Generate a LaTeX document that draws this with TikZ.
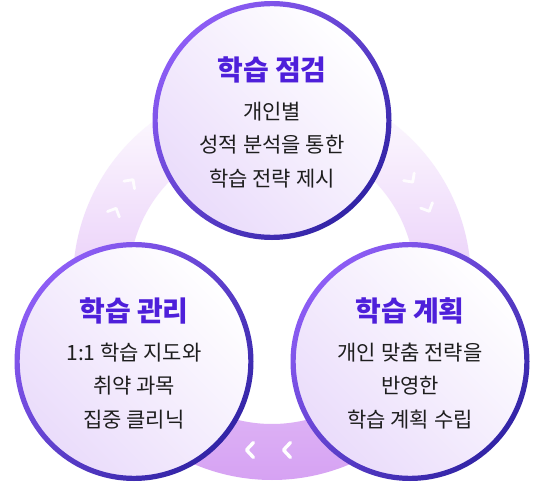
\documentclass[tikz,border=0pt]{standalone}
\usepackage{fontspec}
\newfontfamily\kr{Noto Sans CJK KR}
\usetikzlibrary{calc}
\definecolor{titlec}{HTML}{4E1FDA}
\definecolor{strokeA}{HTML}{8D5DF5}
\definecolor{strokeB}{HTML}{3224A6}
\definecolor{ringB}{HTML}{D6A2F3}
\definecolor{fillB}{HTML}{EADCFB}
\definecolor{txt}{HTML}{1E1E1E}
\tikzset{
  chevron/.pic={\draw[white, line width=2.8pt, line cap=round, line join=round] (-5,6.5) -- (1.5,0) -- (-5,-6.5);},
  bigchevron/.pic={\draw[white, line width=3.4pt, line cap=round, line join=round] (-5.5,7.5) -- (1.5,0) -- (-5.5,-7.5);},
  titletext/.style={font=\kr\bfseries\fontsize{28}{32}\selectfont, text=titlec, inner sep=0pt},
  bodytext/.style={font=\kr\fontsize{21}{33.5}\selectfont, text=txt, align=center, inner sep=0pt},
}
\newcommand{\bubbleat}[1]{%
  \shade[top color=white, middle color=white, bottom color=fillB, shading angle=-45] (#1) circle[radius=117pt];
  \shade[even odd rule, top color=strokeA, bottom color=strokeB, shading angle=45]
    (#1) circle[radius=119.5pt] (#1) circle[radius=114.3pt];
}
\begin{document}
\begin{tikzpicture}[x=1pt,y=1pt]
\useasboundingbox (0,0) rectangle (544,491);
\fill[white] (0,0) rectangle (544,491);
\coordinate (rc) at (272,210);
% ring
\shade[even odd rule, top color=white, bottom color=ringB]
  (rc) circle[radius=199pt] (rc) circle[radius=143pt];
% chevrons
\pic[rotate=54.4, opacity=0.9] at ([shift={(144.4:172pt)}]rc) {chevron};
\pic[rotate=65.5, opacity=0.9] at ([shift={(155.5:172pt)}]rc) {chevron};
\pic[rotate=-54.4, opacity=0.9] at ([shift={(35.6:172pt)}]rc) {chevron};
\pic[rotate=-65.6, opacity=0.9] at ([shift={(24.4:172pt)}]rc) {chevron};
\pic[rotate=180] at (248,41) {bigchevron};
\pic[rotate=180] at (285,41) {bigchevron};
% circles
\coordinate (ct) at (272,370.5);
\coordinate (cl) at (134,129.5);
\coordinate (cr) at (410,129.5);
\bubbleat{ct}
\bubbleat{cl}
\bubbleat{cr}
% texts
\node[titletext] (t1) at ($(ct)+(0,51)$) {학습 점검};
\node[bodytext] (b1) at ($(ct)+(0,-24.5)$) {개인별\\성적 분석을 통한\\학습 전략 제시};
\node[titletext] (t2) at ($(cr)+(0,51)$) {학습 계획};
\node[bodytext] (b2) at ($(cr)+(0,-24.5)$) {개인 맞춤 전략을\\반영한\\학습 계획 수립};
\node[titletext] (t3) at ($(cl)+(0,51)$) {학습 관리};
\node[bodytext] (b3) at ($(cl)+(0,-24.5)$) {1:1 학습 지도와\\취약 과목\\집중 클리닉};
\end{tikzpicture}
\end{document}
